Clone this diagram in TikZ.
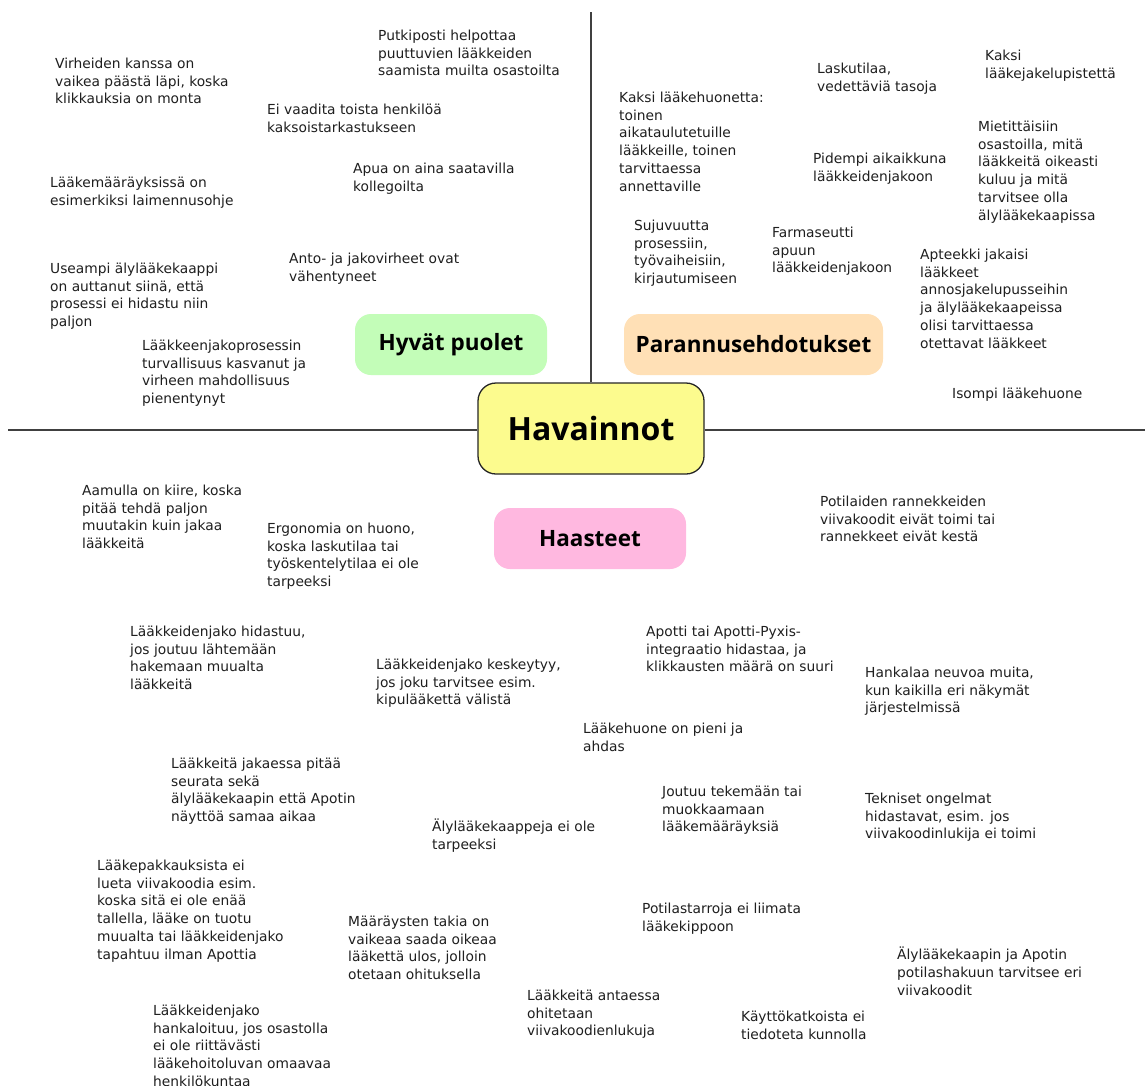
\documentclass[tikz,border=0pt]{standalone}
\usepackage{fontspec}
\setmainfont{DejaVu Sans}
\newfontfamily\headfont{Open Sans}
\usetikzlibrary{positioning}
\definecolor{hubyellow}{RGB}{252,251,142}
\definecolor{goodgreen}{RGB}{195,253,184}
\definecolor{ideapeach}{RGB}{255,224,182}
\definecolor{issuepink}{RGB}{255,184,224}
\definecolor{axisgray}{RGB}{64,64,64}
\tikzset{
  note/.style={align=left, inner sep=0pt, anchor=north west, yshift=5.4pt,
    font=\fontsize{13.8}{17.8}\selectfont, text=black!88,
    execute at begin node={\rule{0pt}{13pt}}},
  topic/.style={rounded corners=16pt, minimum height=61pt, inner sep=0pt,
    font=\headfont\fontsize{22.5}{26}\selectfont\bfseries},
  axis/.style={draw=axisgray, line width=1.6pt}
}
\begin{document}
\begin{tikzpicture}[x=1pt, y=-1pt]
\useasboundingbox[fill=white] (0,0) rectangle (1145,1085);

% Centre and axes
\node[draw=black!85, fill=hubyellow, line width=1.3pt, rounded corners=18pt,
  minimum width=226pt, minimum height=91pt, font=\headfont\fontsize{32}{36}\selectfont\bfseries] (hub) at (591,428.5) {Havainnot};
\coordinate (top) at (591,12);
\coordinate (left) at (8,430);
\coordinate (right) at (1145,430);
\draw[axis] (hub.north) -- (top);
\draw[axis] (hub.west |- left) -- (left);
\draw[axis] (hub.east |- right) -- (right);

% Topic boxes
\node[topic, fill=goodgreen, minimum width=192pt] (good) at (451,344.5) {Hyvät puolet};
\node[topic, fill=ideapeach, minimum width=259pt] (ideas) at (753.5,344.5) {Parannusehdotukset};
\node[topic, fill=issuepink, minimum width=192pt] (issues) at (590,538.5) {Haasteet};

% Hyvät puolet
\node[note] (g1) at (378,35) {Putkiposti helpottaa\\puuttuvien lääkkeiden\\saamista muilta osastoilta};
\node[note] (g2) at (55,63) {Virheiden kanssa on\\vaikea päästä läpi, koska\\klikkauksia on monta};
\node[note] (g3) at (267,109) {Ei vaadita toista henkilöä\\kaksoistarkastukseen};
\node[note] (g4) at (353,168) {Apua on aina saatavilla\\kollegoilta};
\node[note] (g5) at (50,182) {Lääkemääräyksissä on\\esimerkiksi laimennusohje};
\node[note] (g6) at (289,258) {Anto- ja jakovirheet ovat\\vähentyneet};
\node[note] (g7) at (50,268) {Useampi älylääkekaappi\\on auttanut siinä, että\\prosessi ei hidastu niin\\paljon};
\node[note] (g8) at (142,345) {Lääkkeenjakoprosessin\\turvallisuus kasvanut ja\\virheen mahdollisuus\\pienentynyt};

% Parannusehdotukset
\node[note] (p1) at (985,55) {Kaksi\\lääkejakelupistettä};
\node[note] (p2) at (817,68) {Laskutilaa,\\vedettäviä tasoja};
\node[note] (p3) at (619,97) {Kaksi lääkehuonetta:\\toinen\\aikataulutetuille\\lääkkeille, toinen\\tarvittaessa\\annettaville};
\node[note] (p4) at (978,126) {Mietittäisiin\\osastoilla, mitä\\lääkkeitä oikeasti\\kuluu ja mitä\\tarvitsee olla\\älylääkekaapissa};
\node[note] (p5) at (813,158) {Pidempi aikaikkuna\\lääkkeidenjakoon};
\node[note] (p6) at (634,225) {Sujuvuutta\\prosessiin,\\työvaiheisiin,\\kirjautumiseen};
\node[note] (p7) at (772,232) {Farmaseutti\\apuun\\lääkkeidenjakoon};
\node[note] (p8) at (920,254) {Apteekki jakaisi\\lääkkeet\\annosjakelupusseihin\\ja älylääkekaapeissa\\olisi tarvittaessa\\otettavat lääkkeet};
\node[note] (p9) at (952,391) {Isompi lääkehuone};

% Haasteet
\node[note] (c1) at (82,490) {Aamulla on kiire, koska\\pitää tehdä paljon\\muutakin kuin jakaa\\lääkkeitä};
\node[note] (c2) at (820,501) {Potilaiden rannekkeiden\\viivakoodit eivät toimi tai\\rannekkeet eivät kestä};
\node[note] (c3) at (267,528) {Ergonomia on huono,\\koska laskutilaa tai\\työskentelytilaa ei ole\\tarpeeksi};
\node[note] (c4) at (130,631) {Lääkkeidenjako hidastuu,\\jos joutuu lähtemään\\hakemaan muualta\\lääkkeitä};
\node[note] (c5) at (646,631) {Apotti tai Apotti-Pyxis-\\integraatio hidastaa, ja\\klikkausten määrä on suuri};
\node[note] (c6) at (376,664) {Lääkkeidenjako keskeytyy,\\jos joku tarvitsee esim.\\kipulääkettä välistä};
\node[note] (c7) at (865,672) {Hankalaa neuvoa muita,\\kun kaikilla eri näkymät\\järjestelmissä};
\node[note] (c8) at (583,728) {Lääkehuone on pieni ja\\ahdas};
\node[note] (c9) at (171,763) {Lääkkeitä jakaessa pitää\\seurata sekä\\älylääkekaapin että Apotin\\näyttöä samaa aikaa};
\node[note] (c10) at (662,791) {Joutuu tekemään tai\\muokkaamaan\\lääkemääräyksiä};
\node[note] (c11) at (865,798) {Tekniset ongelmat\\hidastavat, esim. jos\\viivakoodinlukija ei toimi};
\node[note] (c12) at (432,824) {Älylääkekaappeja ei ole\\tarpeeksi};
\node[note] (c13) at (97,865) {Lääkepakkauksista ei\\lueta viivakoodia esim.\\koska sitä ei ole enää\\tallella, lääke on tuotu\\muualta tai lääkkeidenjako\\tapahtuu ilman Apottia};
\node[note] (c14) at (642,908) {Potilastarroja ei liimata\\lääkekippoon};
\node[note] (c15) at (348,921) {Määräysten takia on\\vaikeaa saada oikeaa\\lääkettä ulos, jolloin\\otetaan ohituksella};
\node[note] (c16) at (897,952) {Älylääkekaapin ja Apotin\\potilashakuun tarvitsee eri\\viivakoodit};
\node[note] (c17) at (527,995) {Lääkkeitä antaessa\\ohitetaan\\viivakoodienlukuja};
\node[note] (c18) at (741,1016) {Käyttökatkoista ei\\tiedoteta kunnolla};
\node[note] (c19) at (153,1010) {Lääkkeidenjako\\hankaloituu, jos osastolla\\ei ole riittävästi\\lääkehoitoluvan omaavaa\\henkilökuntaa};
\end{tikzpicture}
\end{document}
